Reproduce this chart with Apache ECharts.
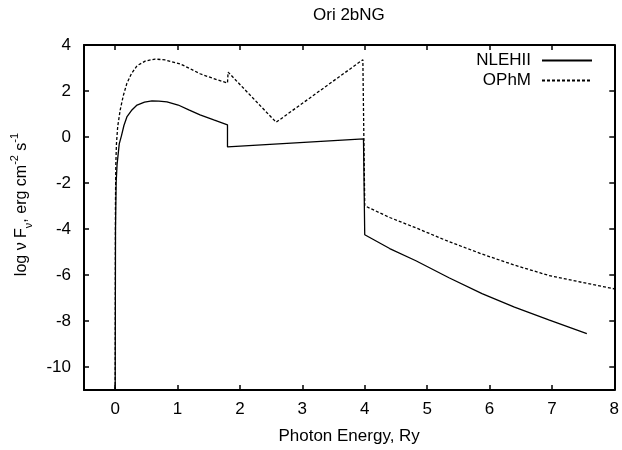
<!DOCTYPE html>
<html>
<head>
<meta charset="utf-8">
<script src="https://cdn.jsdelivr.net/npm/echarts@6/dist/echarts.min.js"></script>
<style>
html,body{margin:0;padding:0;background:#fff;}
#chart{width:622px;height:450px;}
</style>
</head>
<body>
<div id="chart"></div>
<script>
var title = 'Ori 2bNG';
var seriesNames = ['NLEHII', 'OPhM'];
var xTicks = [0, 1, 2, 3, 4, 5, 6, 7, 8];
var yTicks = [-10, -8, -6, -4, -2, 0, 2, 4];

var nlehiiX = [0.0, 0.005, 0.015, 0.03, 0.065, 0.1, 0.14, 0.19, 0.26, 0.35, 0.47, 0.59, 0.7, 0.83, 1.01, 1.18, 1.36, 1.58, 1.8, 1.8, 3.98, 4.0, 4.4, 4.82, 5.35, 5.88, 6.4, 6.95, 7.56];
var nlehiiY = [-11, -4, -2, -1.2, -0.3, 0.05, 0.5, 0.89, 1.15, 1.39, 1.52, 1.57, 1.56, 1.53, 1.39, 1.18, 0.96, 0.74, 0.53, -0.43, -0.08, -4.25, -4.85, -5.38, -6.12, -6.81, -7.4, -7.95, -8.55];

var ophmX = [0.0, 0.004, 0.01, 0.02, 0.04, 0.08, 0.13, 0.186, 0.26, 0.35, 0.48, 0.64, 0.8, 1.04, 1.2, 1.36, 1.63, 1.8, 1.81, 2.58, 3.97, 4.0, 4.4, 4.82, 5.35, 5.88, 6.4, 6.95, 7.5, 8.0];
var ophmY = [-11, -3, -1.2, -0.3, 0.45, 1.17, 1.8, 2.32, 2.75, 3.1, 3.3, 3.39, 3.35, 3.18, 2.97, 2.75, 2.49, 2.35, 2.82, 0.64, 3.36, -2.99, -3.5, -3.95, -4.55, -5.09, -5.57, -6.02, -6.33, -6.6];

function pairs(xs, ys) {
  return xs.map(function (x, i) { return [x, ys[i]]; });
}

var FONT = 'Liberation Sans';
var FS = 17;

var chart = echarts.init(document.getElementById('chart'), null, {renderer: 'canvas'});

var axisCommon = {
  type: 'value',
  axisLine: {show: true, onZero: false, lineStyle: {color: '#000', width: 2}},
  axisTick: {show: true, inside: true, length: 5, lineStyle: {color: '#000', width: 1.5}},
  splitLine: {show: false},
  minorTick: {show: false}
};

chart.setOption({
  animation: false,
  backgroundColor: '#fff',
  title: {
    text: title,
    left: 308, top: 2,
    textStyle: {fontFamily: FONT, fontSize: FS, fontWeight: 'normal', color: '#000'}
  },
  legend: {
    orient: 'vertical',
    right: 24, top: 47,
    align: 'right',
    itemWidth: 50, itemHeight: 14, itemGap: 3,
    itemStyle: {color: 'transparent', borderColor: 'transparent', borderWidth: 0, opacity: 0},
    textStyle: {fontFamily: FONT, fontSize: FS, color: '#000', padding: [0, 6, 0, 0]},
    data: seriesNames
  },
  grid: {left: 84, top: 45, width: 532, height: 348, containLabel: false},
  xAxis: [
    Object.assign({}, axisCommon, {
      min: -0.5, max: 8, position: 'bottom',
      name: 'Photon Energy, Ry', nameLocation: 'middle', nameGap: 38,
      nameTextStyle: {fontFamily: FONT, fontSize: FS, color: '#000'},
      axisTick: Object.assign({}, axisCommon.axisTick, {customValues: xTicks}),
      axisLabel: {customValues: xTicks, color: '#000', fontFamily: FONT, fontSize: FS, margin: 11}
    }),
    Object.assign({}, axisCommon, {
      min: -0.5, max: 8, position: 'top',
      axisTick: Object.assign({}, axisCommon.axisTick, {customValues: xTicks}),
      axisLabel: {show: false}
    })
  ],
  yAxis: [
    Object.assign({}, axisCommon, {
      min: -11, max: 4, position: 'left',
      name: '{a|log ν F}{sb|ν}{a|, erg cm}{sp|-2}{a| s}{sp|-1}',
      nameLocation: 'middle', nameGap: 49, nameRotate: 90,
      nameTextStyle: {
        fontFamily: FONT, fontSize: 16, color: '#000',
        padding: [0, 0, 0, 26],
        rich: {
          a: {fontFamily: FONT, fontSize: 16, color: '#000', lineHeight: 26, verticalAlign: 'middle'},
          sb: {fontFamily: FONT, fontSize: 11, color: '#000', lineHeight: 26, verticalAlign: 'bottom', padding: [0, 0, 1, 0]},
          sp: {fontFamily: FONT, fontSize: 11, color: '#000', lineHeight: 26, verticalAlign: 'top'}
        }
      },
      axisTick: Object.assign({}, axisCommon.axisTick, {customValues: yTicks}),
      axisLabel: {customValues: yTicks, color: '#000', fontFamily: FONT, fontSize: FS, margin: 13}
    }),
    Object.assign({}, axisCommon, {
      min: -11, max: 4, position: 'right',
      axisTick: Object.assign({}, axisCommon.axisTick, {customValues: yTicks}),
      axisLabel: {show: false}
    })
  ],
  series: [
    {
      name: seriesNames[0], type: 'line', data: pairs(nlehiiX, nlehiiY),
      showSymbol: false, symbol: 'none', smooth: false, clip: true,
      lineStyle: {color: '#000', width: 1.3, type: 'solid'},
      itemStyle: {color: '#000'}
    },
    {
      name: seriesNames[1], type: 'line', data: pairs(ophmX, ophmY),
      showSymbol: false, symbol: 'none', smooth: false, clip: true,
      lineStyle: {color: '#000', width: 1.3, type: [3, 2]},
      itemStyle: {color: '#000'}
    }
  ]
});
</script>
</body>
</html>
